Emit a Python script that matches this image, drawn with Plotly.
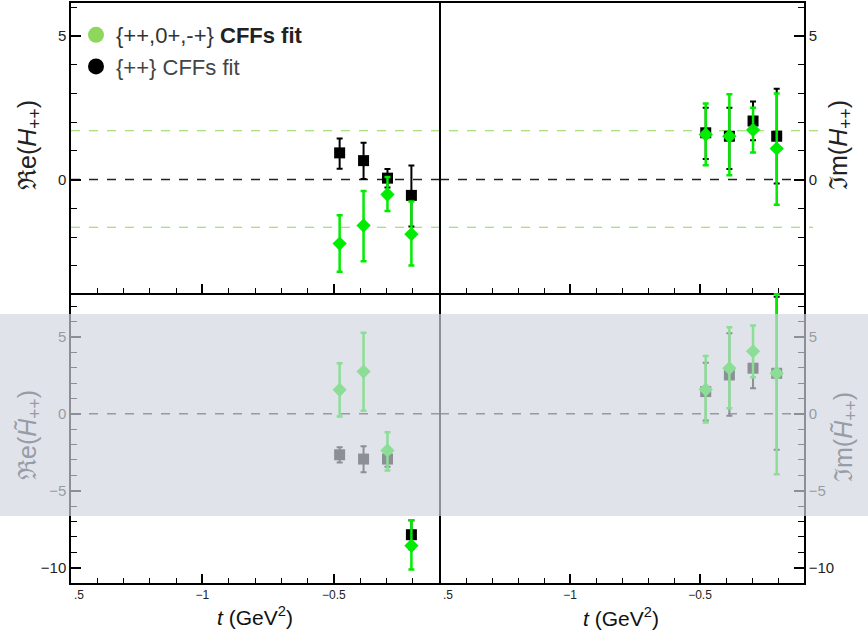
import plotly.graph_objects as go

# -t bin centres (GeV^2)
t_bins = [-0.478, -0.387, -0.296, -0.205]

# Re(H_++)
re_h_pp = [0.93, 0.66, 0.05, -0.55]
re_h_pp_up = [0.50, 0.62, 0.32, 1.04]
re_h_pp_dn = [0.55, 0.64, 0.33, 1.08]
re_h_all = [-2.23, -1.60, -0.52, -1.90]
re_h_all_up = [0.99, 1.20, 0.61, 1.14]
re_h_all_dn = [0.98, 1.24, 0.57, 1.09]

# Im(H_++)
im_h_pp = [1.63, 1.51, 2.04, 1.51]
im_h_pp_up = [0.87, 0.99, 0.68, 1.65]
im_h_pp_dn = [0.91, 1.14, 0.67, 1.65]
im_h_all = [1.57, 1.51, 1.73, 1.08]
im_h_all_up = [1.08, 1.46, 0.77, 1.92]
im_h_all_dn = [1.07, 1.36, 0.79, 1.96]

# Re(H~_++)
re_ht_pp = [-2.66, -2.94, -2.94, -7.86]
re_ht_pp_up = [0.49, 0.84, 0.50, 0.94]
re_ht_pp_dn = [0.50, 0.85, 0.50, 0.95]
re_ht_all = [1.56, 2.75, -2.38, -8.57]
re_ht_all_up = [1.73, 2.53, 1.19, 1.65]
re_ht_all_dn = [1.73, 2.54, 1.30, 1.56]

# Im(H~_++)
im_ht_pp = [1.45, 2.53, 2.97, 2.64]
im_ht_pp_up = [1.88, 2.71, 1.00, 4.98]
im_ht_pp_dn = [1.88, 2.66, 1.30, 4.98]
im_ht_all = [1.58, 2.97, 4.07, 2.64]
im_ht_all_up = [2.19, 2.66, 1.67, 5.15]
im_ht_all_dn = [2.14, 2.60, 1.69, 6.56]

# reference band drawn on the H_++ panels
h_band = [1.70, -1.66]

x_range = [-1.5, -0.1]
top_range = [-3.95, 6.15]
bot_range = [-11.0, 7.86]

GREEN = "#00ec00"
LEG_GREEN = "#8fd65c"
FONT = "Liberation Sans, Arial, sans-serif"

W, H = 868, 630
def px(v):
    return v / W
def py(v):
    return 1 - v / H

fig = go.Figure()

panels = [
    ("x", "y", re_h_pp, re_h_pp_up, re_h_pp_dn, re_h_all, re_h_all_up, re_h_all_dn),
    ("x2", "y2", im_h_pp, im_h_pp_up, im_h_pp_dn, im_h_all, im_h_all_up, im_h_all_dn),
    ("x3", "y3", re_ht_pp, re_ht_pp_up, re_ht_pp_dn, re_ht_all, re_ht_all_up, re_ht_all_dn),
    ("x4", "y4", im_ht_pp, im_ht_pp_up, im_ht_pp_dn, im_ht_all, im_ht_all_up, im_ht_all_dn),
]

for xa, ya, pp, ppu, ppd, al, alu, ald in panels:
    fig.add_trace(go.Scatter(
        x=t_bins, y=pp, xaxis=xa, yaxis=ya, mode="markers", showlegend=False,
        marker=dict(symbol="square", size=11, color="black"),
        error_y=dict(type="data", symmetric=False, array=ppu, arrayminus=ppd,
                     color="black", thickness=2, width=3),
    ))
    fig.add_trace(go.Scatter(
        x=t_bins, y=al, xaxis=xa, yaxis=ya, mode="markers", showlegend=False,
        marker=dict(symbol="diamond", size=11, color=GREEN),
        error_y=dict(type="data", symmetric=False, array=alu, arrayminus=ald,
                     color=GREEN, thickness=2.5, width=3),
    ))

# legend entries
fig.add_trace(go.Scatter(
    x=[None], y=[None], mode="markers", legendgroup="a",
    name='<span style="color:#333">{++,0+,-+}</span> <b>CFFs fit</b>',
    marker=dict(symbol="circle", size=16, color=LEG_GREEN),
))
fig.add_trace(go.Scatter(
    x=[None], y=[None], mode="markers", legendgroup="b",
    name='<span style="color:#444">{++} CFFs fit</span>',
    marker=dict(symbol="circle", size=16, color="black"),
))

xl = [px(71), px(439)]
xr = [px(440), px(804)]
yt = [py(293), py(3)]
yb = [py(583), py(293)]

def xaxis_cfg(domain, anchor, labels, mirror):
    return dict(
        domain=domain, anchor=anchor, range=x_range,
        showline=True, linecolor="black", linewidth=1.5, mirror=mirror,
        ticks="inside", ticklen=9, tickwidth=1.5, tickcolor="black",
        tickvals=[-1.5, -1.0, -0.5], ticktext=["", "\u22121", "\u22120.5"],
        showticklabels=labels, showgrid=False, zeroline=False,
        tickfont=dict(size=12, color="#222", family=FONT),
        minor=dict(ticks="inside", ticklen=5, tickwidth=1.2, tickcolor="black",
                   dtick=0.1, tick0=-1.5, showgrid=False),
    )

def yaxis_cfg(domain, anchor, rng, vals, texts, side, mirror):
    return dict(
        domain=domain, anchor=anchor, range=rng, side=side,
        showline=True, linecolor="black", linewidth=1.5, mirror=mirror,
        ticks="inside", ticklen=10, tickwidth=1.5, tickcolor="black",
        tickvals=vals, ticktext=texts, showgrid=False, zeroline=False,
        tickfont=dict(size=15, color="#222", family=FONT),
        minor=dict(ticks="inside", ticklen=6, tickwidth=1.2, tickcolor="black",
                   dtick=1, tick0=0, showgrid=False),
    )

fig.update_layout(
    width=W, height=H,
    margin=dict(l=0, r=0, t=0, b=0),
    paper_bgcolor="white", plot_bgcolor="white",
    font=dict(family=FONT, color="#222"),
    xaxis=xaxis_cfg(xl, "y", False, True),
    xaxis2=xaxis_cfg(xr, "y2", False, True),
    xaxis3=xaxis_cfg(xl, "y3", True, False),
    xaxis4=xaxis_cfg(xr, "y4", True, False),
    yaxis=yaxis_cfg(yt, "x", top_range, [0, 5], ["0", "5"], "left", True),
    yaxis2=yaxis_cfg(yt, "x2", top_range, [0, 5], ["0", "5"], "right", False),
    yaxis3=yaxis_cfg(yb, "x3", bot_range, [-10, -5, 0, 5],
                     ["\u221210", "\u22125", "0", "5"], "left", True),
    yaxis4=yaxis_cfg(yb, "x4", bot_range, [-10, -5, 0, 5],
                     ["\u221210", "\u22125", "0", "5"], "right", False),
    legend=dict(x=px(76), y=py(14), xanchor="left", yanchor="top",
                bgcolor="rgba(0,0,0,0)", font=dict(size=22, family=FONT, color="#222"),
                tracegroupgap=0),
)

shapes = []
# zero lines
for xa, ya in [("x", "y"), ("x2", "y2"), ("x3", "y3"), ("x4", "y4")]:
    x1 = 0.98 if xa in ("x2", "x4") else 1.0
    shapes.append(dict(type="line", xref=f"{xa} domain", yref=ya, x0=0, x1=x1,
                       y0=0, y1=0, layer="below",
                       line=dict(color="#222", width=1.5, dash="dash")))
# band lines across both H_++ panels
for val, xend in zip(h_band, [823, 813]):
    shapes.append(dict(type="line", xref="paper", yref="y", x0=px(71), x1=px(xend),
                       y0=val, y1=val, layer="below",
                       line=dict(color=LEG_GREEN, width=1.2, dash="dash")))
# translucent strip over the H~ panels
shapes.append(dict(type="rect", xref="paper", yref="paper", x0=0, x1=1,
                   y0=py(516), y1=py(314), layer="above",
                   fillcolor="rgba(209,214,224,0.67)", line=dict(width=0)))
fig.update_layout(shapes=shapes)

ann = []
title_font = dict(size=25, family=FONT, color="#222")
grey_font = dict(size=25, family=FONT, color="#979ca7")
def ytitle(x, y, text, font):
    return dict(x=px(x), y=py(y), xref="paper", yref="paper", textangle=-90,
                xanchor="center", yanchor="middle", showarrow=False,
                font=font, text=text)
ann.append(ytitle(29, 145, "\u211ce(<i>H</i><sub>++</sub>)", title_font))
ann.append(ytitle(840, 145, "\u2111m(<i>H</i><sub>++</sub>)", title_font))
ann.append(ytitle(29, 435, "\u211ce(<i>H\u0303</i><sub>++</sub>)", grey_font))
ann.append(ytitle(845, 437, "\u2111m(<i>H\u0303</i><sub>++</sub>)", grey_font))
for xc, yc in [(255, 616), (621, 617)]:
    ann.append(dict(x=px(xc), y=py(yc), xref="paper", yref="paper", showarrow=False,
                    xanchor="center", yanchor="middle",
                    font=dict(size=21, family=FONT, color="#111"),
                    text="<i>t</i> (GeV<sup>2</sup>)"))
for xa in ("x3", "x4"):
    ann.append(dict(x=-1.5, y=py(586), xref=xa, yref="paper", showarrow=False,
                    xanchor="left", yanchor="top", xshift=1,
                    font=dict(size=12, family=FONT, color="#222"),
                    text=".5"))
fig.update_layout(annotations=ann)

fig.write_html("out.html")
